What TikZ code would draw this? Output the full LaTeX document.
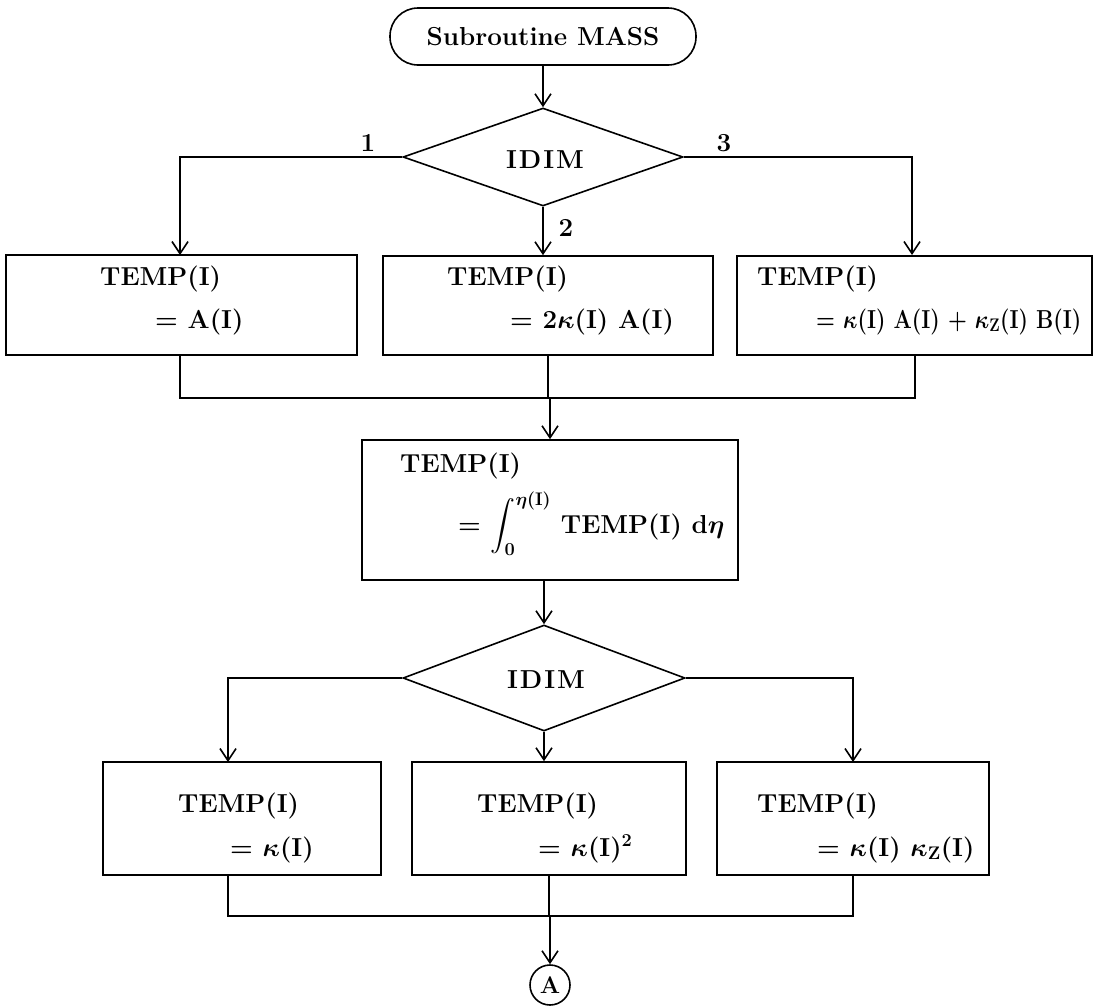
\RequirePackage{fix-cm}
\documentclass[tikz,border=0pt]{standalone}
\usepackage{exscale}
\usetikzlibrary{shapes.geometric,arrows.meta}
\begin{document}
\begin{tikzpicture}[x=1pt,y=-1pt,
  every node/.style={font=\fontsize{26}{31}\selectfont\bfseries\boldmath},
  box/.style={draw,line width=1.6pt,inner sep=0pt},
  dia/.style={draw,diamond,line width=1.6pt,inner sep=0pt},
  txt/.style={anchor=base west,inner sep=0pt},
  lbl/.style={inner sep=0pt},
  ln/.style={line width=1.6pt},
  arr/.style={line width=1.6pt,-{Straight Barb[length=12pt,width=16pt]}}]
\useasboundingbox (0,0) rectangle (1093,1005);
% terminal
\node[box,rounded corners=28pt,minimum width=306pt,minimum height=57pt] (start) at (543,36.5) {Subroutine MASS};
% first decision
\node[dia,minimum width=280pt,minimum height=98pt] (d1) at (543,157) {};
\node[lbl] (d1t) at (545,160) {I\kern2pt D\kern2pt I\kern2pt M};
\node[lbl] (n1) at (368,143) {1};
\node[lbl] (n2) at (566,228) {2};
\node[lbl] (n3) at (724,143) {3};
% first row of boxes
\node[box,minimum width=351pt,minimum height=100pt] (b1) at (181.5,305) {};
\node[box,minimum width=330pt,minimum height=99pt] (b2) at (548,305.5) {};
\node[box,minimum width=355pt,minimum height=99pt] (b3) at (914.5,305.5) {};
\node[txt] (t1a) at (100,285) {TEMP(I)};
\node[txt] (t1b) at (155,328) {= A(I)};
\node[txt] (t2a) at (447,285) {TEMP(I)};
\node[txt] (t2b) at (510,328) {= 2$\kappa$(I) A(I)};
\node[txt] (t3a) at (757,285) {TEMP(I)};
\node[txt] (t3b) at (816,328) {\scalebox{0.83}[1]{= $\kappa$(I) A(I) + $\kappa_{\mathrm{Z}}$(I) B(I)}};
% integral box
\node[box,minimum width=376pt,minimum height=140pt] (bi) at (550,510) {};
\node[txt] (tia) at (400,472) {TEMP(I)};
\node[txt] (tib) at (458,533) {= $\displaystyle\int_0^{\eta(\mathrm{I})}$ TEMP(I) d$\eta$};
% second decision
\node[dia,minimum width=282pt,minimum height=106pt] (d2) at (544,678) {};
\node[lbl] (d2t) at (546,680) {I\kern2pt D\kern2pt I\kern2pt M};
% second row of boxes
\node[box,minimum width=278pt,minimum height=113pt] (b4) at (242,818.5) {};
\node[box,minimum width=274pt,minimum height=113pt] (b5) at (549,818.5) {};
\node[box,minimum width=272pt,minimum height=113pt] (b6) at (853,818.5) {};
\node[txt] (t4a) at (178,812) {TEMP(I)};
\node[txt] (t4b) at (230,856) {= $\kappa$(I)};
\node[txt] (t5a) at (477,812) {TEMP(I)};
\node[txt] (t5b) at (538,856) {= $\kappa$(I)$^2$};
\node[txt] (t6a) at (757,812) {TEMP(I)};
\node[txt] (t6b) at (817,856) {= $\kappa$(I) $\kappa_{\mathrm{Z}}$(I)};
% connector
\node[draw,circle,line width=1.6pt,minimum size=40pt,inner sep=0pt,font=\fontsize{24}{28}\selectfont\bfseries] (A) at (550,985) {A};
% coordinates
\coordinate (e1) at (180,255);
\coordinate (e3) at (912,255);
\coordinate (x1) at (180,355);
\coordinate (x3) at (915,355);
\coordinate (m1) at (180,398);
\coordinate (m3) at (915,398);
\coordinate (e4) at (228,762);
\coordinate (e6) at (853,762);
\coordinate (x4) at (228,875);
\coordinate (x6) at (853,875);
\coordinate (m4) at (228,916);
\coordinate (m6) at (853,916);
% connectors
\draw[arr] (start) -- (d1.north);
\draw[arr] (d1.west) -| (e1);
\draw[arr] (d1.east) -| (e3);
\draw[arr] (d1.south) -- (d1.south |- b2.north);
\draw[ln] (x1) -- (m1) -- (m3) -- (x3);
\draw[ln] (b2.south) -- (b2.south |- m1);
\draw[arr] (bi.north |- m1) -- (bi.north);
\draw[arr] (bi.south -| d2.north) -- (d2.north);
\draw[arr] (d2.west) -| (e4);
\draw[arr] (d2.east) -| (e6);
\draw[arr] (d2.south) -- (d2.south |- b5.north);
\draw[ln] (x4) -- (m4) -- (m6) -- (x6);
\draw[ln] (b5.south) -- (b5.south |- m4);
\draw[arr] (A.north |- m4) -- (A.north);
\end{tikzpicture}
\end{document}
